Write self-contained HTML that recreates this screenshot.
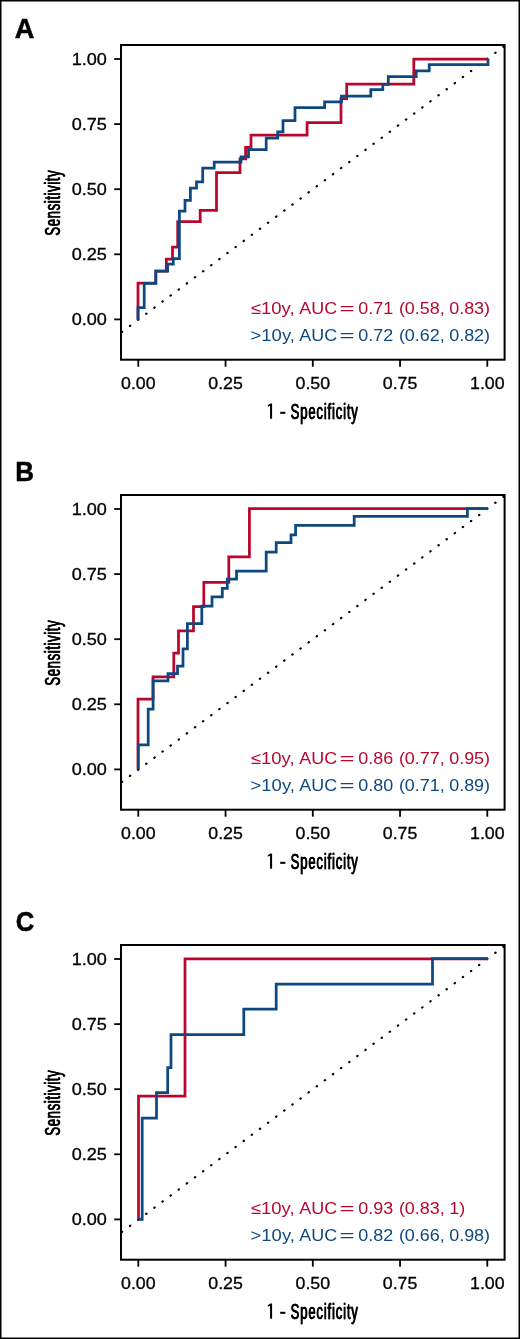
<!DOCTYPE html>
<html><head><meta charset="utf-8"><style>
html,body{margin:0;padding:0;background:#fff;}
svg{display:block;will-change:transform;}
text{font-family:"Liberation Sans",sans-serif;}
</style></head><body>
<svg width="520" height="1339" viewBox="0 0 520 1339">
<rect x="0" y="0" width="520" height="1339" fill="#fff"/>
<rect x="0.75" y="0.75" width="518.5" height="1337.5" fill="none" stroke="#000" stroke-width="1.5"/>
<text x="14.82" y="38.00" font-size="27" font-weight="bold" fill="#000" textLength="19.59" lengthAdjust="spacingAndGlyphs" stroke="#000" stroke-width="0.5">A</text>
<rect x="121.0" y="45.0" width="383.6" height="314.7" fill="none" stroke="#000" stroke-width="2"/>
<line x1="121.00" y1="332.63" x2="504.60" y2="45.92" stroke="#000" stroke-width="2.15" stroke-linecap="round" stroke-dasharray="0.5 9.635" stroke-dashoffset="-0.95"/>
<path d="M138.0,319.4 L138.0,283.0 L155.8,283.0 L155.8,271.0 L166.3,271.0 L166.3,259.2 L172.5,259.2 L172.5,247.0 L177.7,247.0 L177.7,221.5 L200.2,221.5 L200.2,210.4 L216.5,210.4 L216.5,172.7 L240.0,172.7 L240.0,158.8 L245.6,158.8 L245.6,147.3 L251.0,147.3 L251.0,135.0 L307.1,135.0 L307.1,122.5 L341.0,122.5 L341.0,98.5 L346.7,98.5 L346.7,84.2 L413.8,84.2 L413.8,59.2 L488.0,59.2" fill="none" stroke="#b8072d" stroke-width="2.75" stroke-linejoin="miter" stroke-linecap="butt"/>
<path d="M138.0,320.0 L138.0,307.5 L144.2,307.5 L144.2,283.3 L155.8,283.3 L155.8,271.1 L167.6,271.1 L167.6,264.2 L173.3,264.2 L173.3,258.7 L179.4,258.7 L179.4,211.2 L185.0,211.2 L185.0,200.4 L190.4,200.4 L190.4,188.1 L196.5,188.1 L196.5,181.9 L202.7,181.9 L202.7,168.1 L214.2,168.1 L214.2,162.2 L241.0,162.2 L241.0,156.8 L248.5,156.8 L248.5,149.6 L266.2,149.6 L266.2,138.1 L277.7,138.1 L277.7,131.9 L283.0,131.9 L283.0,120.5 L295.0,120.5 L295.0,107.5 L324.6,107.5 L324.6,101.9 L341.5,101.9 L341.5,96.2 L370.8,96.2 L370.8,89.5 L382.8,89.5 L382.8,84.3 L388.3,84.3 L388.3,76.6 L416.2,76.6 L416.2,70.8 L429.2,70.8 L429.2,64.6 L488.0,64.6 L488.0,59.0" fill="none" stroke="#0e4880" stroke-width="2.75" stroke-linejoin="miter" stroke-linecap="butt"/>
<line x1="114.2" y1="319.40" x2="121.0" y2="319.40" stroke="#000" stroke-width="1.8"/>
<text x="71.69" y="325.30" font-size="16.6" font-weight="normal" fill="#000" textLength="35.21" lengthAdjust="spacingAndGlyphs" stroke="#000" stroke-width="0.3">0.00</text>
<line x1="114.2" y1="254.30" x2="121.0" y2="254.30" stroke="#000" stroke-width="1.8"/>
<text x="71.69" y="260.20" font-size="16.6" font-weight="normal" fill="#000" textLength="35.21" lengthAdjust="spacingAndGlyphs" stroke="#000" stroke-width="0.3">0.25</text>
<line x1="114.2" y1="189.20" x2="121.0" y2="189.20" stroke="#000" stroke-width="1.8"/>
<text x="71.69" y="195.10" font-size="16.6" font-weight="normal" fill="#000" textLength="35.21" lengthAdjust="spacingAndGlyphs" stroke="#000" stroke-width="0.3">0.50</text>
<line x1="114.2" y1="124.10" x2="121.0" y2="124.10" stroke="#000" stroke-width="1.8"/>
<text x="71.69" y="130.00" font-size="16.6" font-weight="normal" fill="#000" textLength="35.21" lengthAdjust="spacingAndGlyphs" stroke="#000" stroke-width="0.3">0.75</text>
<line x1="114.2" y1="59.00" x2="121.0" y2="59.00" stroke="#000" stroke-width="1.8"/>
<text x="71.69" y="64.90" font-size="16.6" font-weight="normal" fill="#000" textLength="35.21" lengthAdjust="spacingAndGlyphs" stroke="#000" stroke-width="0.3">1.00</text>
<line x1="138.30" y1="359.7" x2="138.30" y2="366.7" stroke="#000" stroke-width="1.8"/>
<text x="121.01" y="389.00" font-size="16.6" font-weight="normal" fill="#000" textLength="34.59" lengthAdjust="spacingAndGlyphs" stroke="#000" stroke-width="0.3">0.00</text>
<line x1="225.55" y1="359.7" x2="225.55" y2="366.7" stroke="#000" stroke-width="1.8"/>
<text x="208.26" y="389.00" font-size="16.6" font-weight="normal" fill="#000" textLength="34.59" lengthAdjust="spacingAndGlyphs" stroke="#000" stroke-width="0.3">0.25</text>
<line x1="312.80" y1="359.7" x2="312.80" y2="366.7" stroke="#000" stroke-width="1.8"/>
<text x="295.51" y="389.00" font-size="16.6" font-weight="normal" fill="#000" textLength="34.59" lengthAdjust="spacingAndGlyphs" stroke="#000" stroke-width="0.3">0.50</text>
<line x1="400.05" y1="359.7" x2="400.05" y2="366.7" stroke="#000" stroke-width="1.8"/>
<text x="382.76" y="389.00" font-size="16.6" font-weight="normal" fill="#000" textLength="34.59" lengthAdjust="spacingAndGlyphs" stroke="#000" stroke-width="0.3">0.75</text>
<line x1="487.30" y1="359.7" x2="487.30" y2="366.7" stroke="#000" stroke-width="1.8"/>
<text x="470.01" y="389.00" font-size="16.6" font-weight="normal" fill="#000" textLength="34.59" lengthAdjust="spacingAndGlyphs" stroke="#000" stroke-width="0.3">1.00</text>
<path d="M270.05,403.4 L272.1,403.4 L272.1,418.7 L270.05,418.7 Z M270.3,403.4 L270.3,405.6 L267.8,406.7 L267.8,405.2 Z" fill="#000"/>
<rect x="280.2" y="411.8" width="5.15" height="2.05" fill="#000"/>
<text transform="translate(290.51,418.70) scale(0.6,1)" x="0" y="0" font-size="21.8" font-weight="normal" fill="#000" letter-spacing="1.382" stroke="#000" stroke-width="0.45">Specificity</text><text transform="translate(290.51,418.70) scale(0.6,1)" x="0.583" y="0" font-size="21.8" font-weight="normal" fill="#000" letter-spacing="1.382" stroke="#000" stroke-width="0.45">Specificity</text>
<text transform="translate(59.95,235.79) rotate(-90) scale(0.6,1)" x="0" y="0" font-size="21.8" font-weight="normal" fill="#000" letter-spacing="1.082" stroke="#000" stroke-width="0.45">Sensitivity</text><text transform="translate(59.95,235.79) rotate(-90) scale(0.6,1)" x="0.583" y="0" font-size="21.8" font-weight="normal" fill="#000" letter-spacing="1.082" stroke="#000" stroke-width="0.45">Sensitivity</text>
<text x="250.85" y="314.00" font-size="16.6" font-weight="normal" fill="#b8072d" textLength="43.76" lengthAdjust="spacingAndGlyphs">≤10y,</text>
<text x="299.36" y="314.00" font-size="16.6" font-weight="normal" fill="#b8072d" textLength="37.88" lengthAdjust="spacingAndGlyphs">AUC</text>
<text x="339.44" y="313.70" font-size="16.6" font-weight="normal" fill="#b8072d" textLength="15.03" lengthAdjust="spacingAndGlyphs">=</text>
<text x="358.30" y="314.00" font-size="16.6" font-weight="normal" fill="#b8072d" textLength="34.92" lengthAdjust="spacingAndGlyphs">0.71</text>
<text x="398.90" y="314.00" font-size="16.6" font-weight="normal" fill="#b8072d" textLength="45.87" lengthAdjust="spacingAndGlyphs">(0.58,</text>
<text x="449.20" y="314.00" font-size="16.6" font-weight="normal" fill="#b8072d" textLength="40.89" lengthAdjust="spacingAndGlyphs">0.83)</text>
<text x="250.52" y="341.30" font-size="16.6" font-weight="normal" fill="#0e4880" textLength="44.39" lengthAdjust="spacingAndGlyphs">&gt;10y,</text>
<text x="299.36" y="341.30" font-size="16.6" font-weight="normal" fill="#0e4880" textLength="37.88" lengthAdjust="spacingAndGlyphs">AUC</text>
<text x="339.44" y="341.00" font-size="16.6" font-weight="normal" fill="#0e4880" textLength="15.03" lengthAdjust="spacingAndGlyphs">=</text>
<text x="358.30" y="341.30" font-size="16.6" font-weight="normal" fill="#0e4880" textLength="34.92" lengthAdjust="spacingAndGlyphs">0.72</text>
<text x="398.90" y="341.30" font-size="16.6" font-weight="normal" fill="#0e4880" textLength="45.87" lengthAdjust="spacingAndGlyphs">(0.62,</text>
<text x="449.20" y="341.30" font-size="16.6" font-weight="normal" fill="#0e4880" textLength="40.89" lengthAdjust="spacingAndGlyphs">0.82)</text>
<text x="15.17" y="480.80" font-size="27" font-weight="bold" fill="#000" textLength="18.71" lengthAdjust="spacingAndGlyphs" stroke="#000" stroke-width="0.5">B</text>
<rect x="121.0" y="495.0" width="383.6" height="314.7" fill="none" stroke="#000" stroke-width="2"/>
<line x1="121.00" y1="782.63" x2="504.60" y2="495.92" stroke="#000" stroke-width="2.15" stroke-linecap="round" stroke-dasharray="0.5 9.635" stroke-dashoffset="-0.95"/>
<path d="M138.0,769.4 L138.0,699.0 L153.0,699.0 L153.0,676.9 L173.8,676.9 L173.8,653.1 L178.5,653.1 L178.5,630.8 L193.5,630.8 L193.5,606.5 L203.8,606.5 L203.8,582.4 L228.8,582.4 L228.8,556.9 L249.4,556.9 L249.4,508.6 L488.0,508.6" fill="none" stroke="#b8072d" stroke-width="2.75" stroke-linejoin="miter" stroke-linecap="butt"/>
<path d="M138.3,769.0 L138.3,744.8 L148.2,744.8 L148.2,709.1 L153.1,709.1 L153.1,680.9 L168.0,680.9 L168.0,673.7 L177.5,673.7 L177.5,666.0 L183.0,666.0 L183.0,648.9 L187.4,648.9 L187.4,623.5 L201.8,623.5 L201.8,606.2 L212.0,606.2 L212.0,596.9 L222.3,596.9 L222.3,588.3 L227.3,588.3 L227.3,579.1 L236.5,579.1 L236.5,571.0 L266.2,571.0 L266.2,552.1 L276.2,552.1 L276.2,542.7 L291.0,542.7 L291.0,534.8 L295.6,534.8 L295.6,525.4 L354.2,525.4 L354.2,516.3 L467.4,516.3 L467.4,508.5 L488.0,508.5" fill="none" stroke="#0e4880" stroke-width="2.75" stroke-linejoin="miter" stroke-linecap="butt"/>
<line x1="114.2" y1="769.40" x2="121.0" y2="769.40" stroke="#000" stroke-width="1.8"/>
<text x="71.69" y="775.30" font-size="16.6" font-weight="normal" fill="#000" textLength="35.21" lengthAdjust="spacingAndGlyphs" stroke="#000" stroke-width="0.3">0.00</text>
<line x1="114.2" y1="704.30" x2="121.0" y2="704.30" stroke="#000" stroke-width="1.8"/>
<text x="71.69" y="710.20" font-size="16.6" font-weight="normal" fill="#000" textLength="35.21" lengthAdjust="spacingAndGlyphs" stroke="#000" stroke-width="0.3">0.25</text>
<line x1="114.2" y1="639.20" x2="121.0" y2="639.20" stroke="#000" stroke-width="1.8"/>
<text x="71.69" y="645.10" font-size="16.6" font-weight="normal" fill="#000" textLength="35.21" lengthAdjust="spacingAndGlyphs" stroke="#000" stroke-width="0.3">0.50</text>
<line x1="114.2" y1="574.10" x2="121.0" y2="574.10" stroke="#000" stroke-width="1.8"/>
<text x="71.69" y="580.00" font-size="16.6" font-weight="normal" fill="#000" textLength="35.21" lengthAdjust="spacingAndGlyphs" stroke="#000" stroke-width="0.3">0.75</text>
<line x1="114.2" y1="509.00" x2="121.0" y2="509.00" stroke="#000" stroke-width="1.8"/>
<text x="71.69" y="514.90" font-size="16.6" font-weight="normal" fill="#000" textLength="35.21" lengthAdjust="spacingAndGlyphs" stroke="#000" stroke-width="0.3">1.00</text>
<line x1="138.30" y1="809.7" x2="138.30" y2="816.7" stroke="#000" stroke-width="1.8"/>
<text x="121.01" y="839.00" font-size="16.6" font-weight="normal" fill="#000" textLength="34.59" lengthAdjust="spacingAndGlyphs" stroke="#000" stroke-width="0.3">0.00</text>
<line x1="225.55" y1="809.7" x2="225.55" y2="816.7" stroke="#000" stroke-width="1.8"/>
<text x="208.26" y="839.00" font-size="16.6" font-weight="normal" fill="#000" textLength="34.59" lengthAdjust="spacingAndGlyphs" stroke="#000" stroke-width="0.3">0.25</text>
<line x1="312.80" y1="809.7" x2="312.80" y2="816.7" stroke="#000" stroke-width="1.8"/>
<text x="295.51" y="839.00" font-size="16.6" font-weight="normal" fill="#000" textLength="34.59" lengthAdjust="spacingAndGlyphs" stroke="#000" stroke-width="0.3">0.50</text>
<line x1="400.05" y1="809.7" x2="400.05" y2="816.7" stroke="#000" stroke-width="1.8"/>
<text x="382.76" y="839.00" font-size="16.6" font-weight="normal" fill="#000" textLength="34.59" lengthAdjust="spacingAndGlyphs" stroke="#000" stroke-width="0.3">0.75</text>
<line x1="487.30" y1="809.7" x2="487.30" y2="816.7" stroke="#000" stroke-width="1.8"/>
<text x="470.01" y="839.00" font-size="16.6" font-weight="normal" fill="#000" textLength="34.59" lengthAdjust="spacingAndGlyphs" stroke="#000" stroke-width="0.3">1.00</text>
<path d="M270.05,853.4 L272.1,853.4 L272.1,868.7 L270.05,868.7 Z M270.3,853.4 L270.3,855.6 L267.8,856.7 L267.8,855.2 Z" fill="#000"/>
<rect x="280.2" y="861.8" width="5.15" height="2.05" fill="#000"/>
<text transform="translate(290.51,868.70) scale(0.6,1)" x="0" y="0" font-size="21.8" font-weight="normal" fill="#000" letter-spacing="1.382" stroke="#000" stroke-width="0.45">Specificity</text><text transform="translate(290.51,868.70) scale(0.6,1)" x="0.583" y="0" font-size="21.8" font-weight="normal" fill="#000" letter-spacing="1.382" stroke="#000" stroke-width="0.45">Specificity</text>
<text transform="translate(59.95,685.79) rotate(-90) scale(0.6,1)" x="0" y="0" font-size="21.8" font-weight="normal" fill="#000" letter-spacing="1.082" stroke="#000" stroke-width="0.45">Sensitivity</text><text transform="translate(59.95,685.79) rotate(-90) scale(0.6,1)" x="0.583" y="0" font-size="21.8" font-weight="normal" fill="#000" letter-spacing="1.082" stroke="#000" stroke-width="0.45">Sensitivity</text>
<text x="250.85" y="764.00" font-size="16.6" font-weight="normal" fill="#b8072d" textLength="43.76" lengthAdjust="spacingAndGlyphs">≤10y,</text>
<text x="299.36" y="764.00" font-size="16.6" font-weight="normal" fill="#b8072d" textLength="37.88" lengthAdjust="spacingAndGlyphs">AUC</text>
<text x="339.44" y="763.70" font-size="16.6" font-weight="normal" fill="#b8072d" textLength="15.03" lengthAdjust="spacingAndGlyphs">=</text>
<text x="358.30" y="764.00" font-size="16.6" font-weight="normal" fill="#b8072d" textLength="34.92" lengthAdjust="spacingAndGlyphs">0.86</text>
<text x="398.90" y="764.00" font-size="16.6" font-weight="normal" fill="#b8072d" textLength="45.87" lengthAdjust="spacingAndGlyphs">(0.77,</text>
<text x="449.20" y="764.00" font-size="16.6" font-weight="normal" fill="#b8072d" textLength="40.89" lengthAdjust="spacingAndGlyphs">0.95)</text>
<text x="250.52" y="791.30" font-size="16.6" font-weight="normal" fill="#0e4880" textLength="44.39" lengthAdjust="spacingAndGlyphs">&gt;10y,</text>
<text x="299.36" y="791.30" font-size="16.6" font-weight="normal" fill="#0e4880" textLength="37.88" lengthAdjust="spacingAndGlyphs">AUC</text>
<text x="339.44" y="791.00" font-size="16.6" font-weight="normal" fill="#0e4880" textLength="15.03" lengthAdjust="spacingAndGlyphs">=</text>
<text x="358.30" y="791.30" font-size="16.6" font-weight="normal" fill="#0e4880" textLength="34.92" lengthAdjust="spacingAndGlyphs">0.80</text>
<text x="398.90" y="791.30" font-size="16.6" font-weight="normal" fill="#0e4880" textLength="45.87" lengthAdjust="spacingAndGlyphs">(0.71,</text>
<text x="449.20" y="791.30" font-size="16.6" font-weight="normal" fill="#0e4880" textLength="40.89" lengthAdjust="spacingAndGlyphs">0.89)</text>
<text x="15.85" y="930.90" font-size="27" font-weight="bold" fill="#000" textLength="18.56" lengthAdjust="spacingAndGlyphs" stroke="#000" stroke-width="0.5">C</text>
<rect x="121.0" y="945.0" width="383.6" height="314.7" fill="none" stroke="#000" stroke-width="2"/>
<line x1="121.00" y1="1232.63" x2="504.60" y2="945.92" stroke="#000" stroke-width="2.15" stroke-linecap="round" stroke-dasharray="0.5 9.635" stroke-dashoffset="-0.95"/>
<path d="M138.5,1219.4 L138.5,1096.0 L185.0,1096.0 L185.0,958.8 L488.0,958.8" fill="none" stroke="#b8072d" stroke-width="2.75" stroke-linejoin="miter" stroke-linecap="butt"/>
<path d="M138.3,1219.3 L142.2,1219.3 L142.2,1118.0 L156.5,1118.0 L156.5,1092.7 L167.7,1092.7 L167.7,1067.5 L171.0,1067.5 L171.0,1034.7 L243.8,1034.7 L243.8,1009.2 L276.2,1009.2 L276.2,984.0 L432.5,984.0 L432.5,958.7 L488.0,958.7" fill="none" stroke="#0e4880" stroke-width="2.75" stroke-linejoin="miter" stroke-linecap="butt"/>
<line x1="114.2" y1="1219.40" x2="121.0" y2="1219.40" stroke="#000" stroke-width="1.8"/>
<text x="71.69" y="1225.30" font-size="16.6" font-weight="normal" fill="#000" textLength="35.21" lengthAdjust="spacingAndGlyphs" stroke="#000" stroke-width="0.3">0.00</text>
<line x1="114.2" y1="1154.30" x2="121.0" y2="1154.30" stroke="#000" stroke-width="1.8"/>
<text x="71.69" y="1160.20" font-size="16.6" font-weight="normal" fill="#000" textLength="35.21" lengthAdjust="spacingAndGlyphs" stroke="#000" stroke-width="0.3">0.25</text>
<line x1="114.2" y1="1089.20" x2="121.0" y2="1089.20" stroke="#000" stroke-width="1.8"/>
<text x="71.69" y="1095.10" font-size="16.6" font-weight="normal" fill="#000" textLength="35.21" lengthAdjust="spacingAndGlyphs" stroke="#000" stroke-width="0.3">0.50</text>
<line x1="114.2" y1="1024.10" x2="121.0" y2="1024.10" stroke="#000" stroke-width="1.8"/>
<text x="71.69" y="1030.00" font-size="16.6" font-weight="normal" fill="#000" textLength="35.21" lengthAdjust="spacingAndGlyphs" stroke="#000" stroke-width="0.3">0.75</text>
<line x1="114.2" y1="959.00" x2="121.0" y2="959.00" stroke="#000" stroke-width="1.8"/>
<text x="71.69" y="964.90" font-size="16.6" font-weight="normal" fill="#000" textLength="35.21" lengthAdjust="spacingAndGlyphs" stroke="#000" stroke-width="0.3">1.00</text>
<line x1="138.30" y1="1259.7" x2="138.30" y2="1266.7" stroke="#000" stroke-width="1.8"/>
<text x="121.01" y="1289.00" font-size="16.6" font-weight="normal" fill="#000" textLength="34.59" lengthAdjust="spacingAndGlyphs" stroke="#000" stroke-width="0.3">0.00</text>
<line x1="225.55" y1="1259.7" x2="225.55" y2="1266.7" stroke="#000" stroke-width="1.8"/>
<text x="208.26" y="1289.00" font-size="16.6" font-weight="normal" fill="#000" textLength="34.59" lengthAdjust="spacingAndGlyphs" stroke="#000" stroke-width="0.3">0.25</text>
<line x1="312.80" y1="1259.7" x2="312.80" y2="1266.7" stroke="#000" stroke-width="1.8"/>
<text x="295.51" y="1289.00" font-size="16.6" font-weight="normal" fill="#000" textLength="34.59" lengthAdjust="spacingAndGlyphs" stroke="#000" stroke-width="0.3">0.50</text>
<line x1="400.05" y1="1259.7" x2="400.05" y2="1266.7" stroke="#000" stroke-width="1.8"/>
<text x="382.76" y="1289.00" font-size="16.6" font-weight="normal" fill="#000" textLength="34.59" lengthAdjust="spacingAndGlyphs" stroke="#000" stroke-width="0.3">0.75</text>
<line x1="487.30" y1="1259.7" x2="487.30" y2="1266.7" stroke="#000" stroke-width="1.8"/>
<text x="470.01" y="1289.00" font-size="16.6" font-weight="normal" fill="#000" textLength="34.59" lengthAdjust="spacingAndGlyphs" stroke="#000" stroke-width="0.3">1.00</text>
<path d="M270.05,1303.4 L272.1,1303.4 L272.1,1318.7 L270.05,1318.7 Z M270.3,1303.4 L270.3,1305.6 L267.8,1306.7 L267.8,1305.2 Z" fill="#000"/>
<rect x="280.2" y="1311.8" width="5.15" height="2.05" fill="#000"/>
<text transform="translate(290.51,1318.70) scale(0.6,1)" x="0" y="0" font-size="21.8" font-weight="normal" fill="#000" letter-spacing="1.382" stroke="#000" stroke-width="0.45">Specificity</text><text transform="translate(290.51,1318.70) scale(0.6,1)" x="0.583" y="0" font-size="21.8" font-weight="normal" fill="#000" letter-spacing="1.382" stroke="#000" stroke-width="0.45">Specificity</text>
<text transform="translate(59.95,1135.79) rotate(-90) scale(0.6,1)" x="0" y="0" font-size="21.8" font-weight="normal" fill="#000" letter-spacing="1.082" stroke="#000" stroke-width="0.45">Sensitivity</text><text transform="translate(59.95,1135.79) rotate(-90) scale(0.6,1)" x="0.583" y="0" font-size="21.8" font-weight="normal" fill="#000" letter-spacing="1.082" stroke="#000" stroke-width="0.45">Sensitivity</text>
<text x="250.85" y="1214.00" font-size="16.6" font-weight="normal" fill="#b8072d" textLength="43.76" lengthAdjust="spacingAndGlyphs">≤10y,</text>
<text x="299.36" y="1214.00" font-size="16.6" font-weight="normal" fill="#b8072d" textLength="37.88" lengthAdjust="spacingAndGlyphs">AUC</text>
<text x="339.44" y="1213.70" font-size="16.6" font-weight="normal" fill="#b8072d" textLength="15.03" lengthAdjust="spacingAndGlyphs">=</text>
<text x="358.30" y="1214.00" font-size="16.6" font-weight="normal" fill="#b8072d" textLength="34.92" lengthAdjust="spacingAndGlyphs">0.93</text>
<text x="398.90" y="1214.00" font-size="16.6" font-weight="normal" fill="#b8072d" textLength="45.87" lengthAdjust="spacingAndGlyphs">(0.83,</text>
<text x="449.20" y="1214.00" font-size="16.6" font-weight="normal" fill="#b8072d" textLength="15.95" lengthAdjust="spacingAndGlyphs">1)</text>
<text x="250.52" y="1241.30" font-size="16.6" font-weight="normal" fill="#0e4880" textLength="44.39" lengthAdjust="spacingAndGlyphs">&gt;10y,</text>
<text x="299.36" y="1241.30" font-size="16.6" font-weight="normal" fill="#0e4880" textLength="37.88" lengthAdjust="spacingAndGlyphs">AUC</text>
<text x="339.44" y="1241.00" font-size="16.6" font-weight="normal" fill="#0e4880" textLength="15.03" lengthAdjust="spacingAndGlyphs">=</text>
<text x="358.30" y="1241.30" font-size="16.6" font-weight="normal" fill="#0e4880" textLength="34.92" lengthAdjust="spacingAndGlyphs">0.82</text>
<text x="398.90" y="1241.30" font-size="16.6" font-weight="normal" fill="#0e4880" textLength="45.87" lengthAdjust="spacingAndGlyphs">(0.66,</text>
<text x="449.20" y="1241.30" font-size="16.6" font-weight="normal" fill="#0e4880" textLength="40.89" lengthAdjust="spacingAndGlyphs">0.98)</text>
</svg>
</body></html>
